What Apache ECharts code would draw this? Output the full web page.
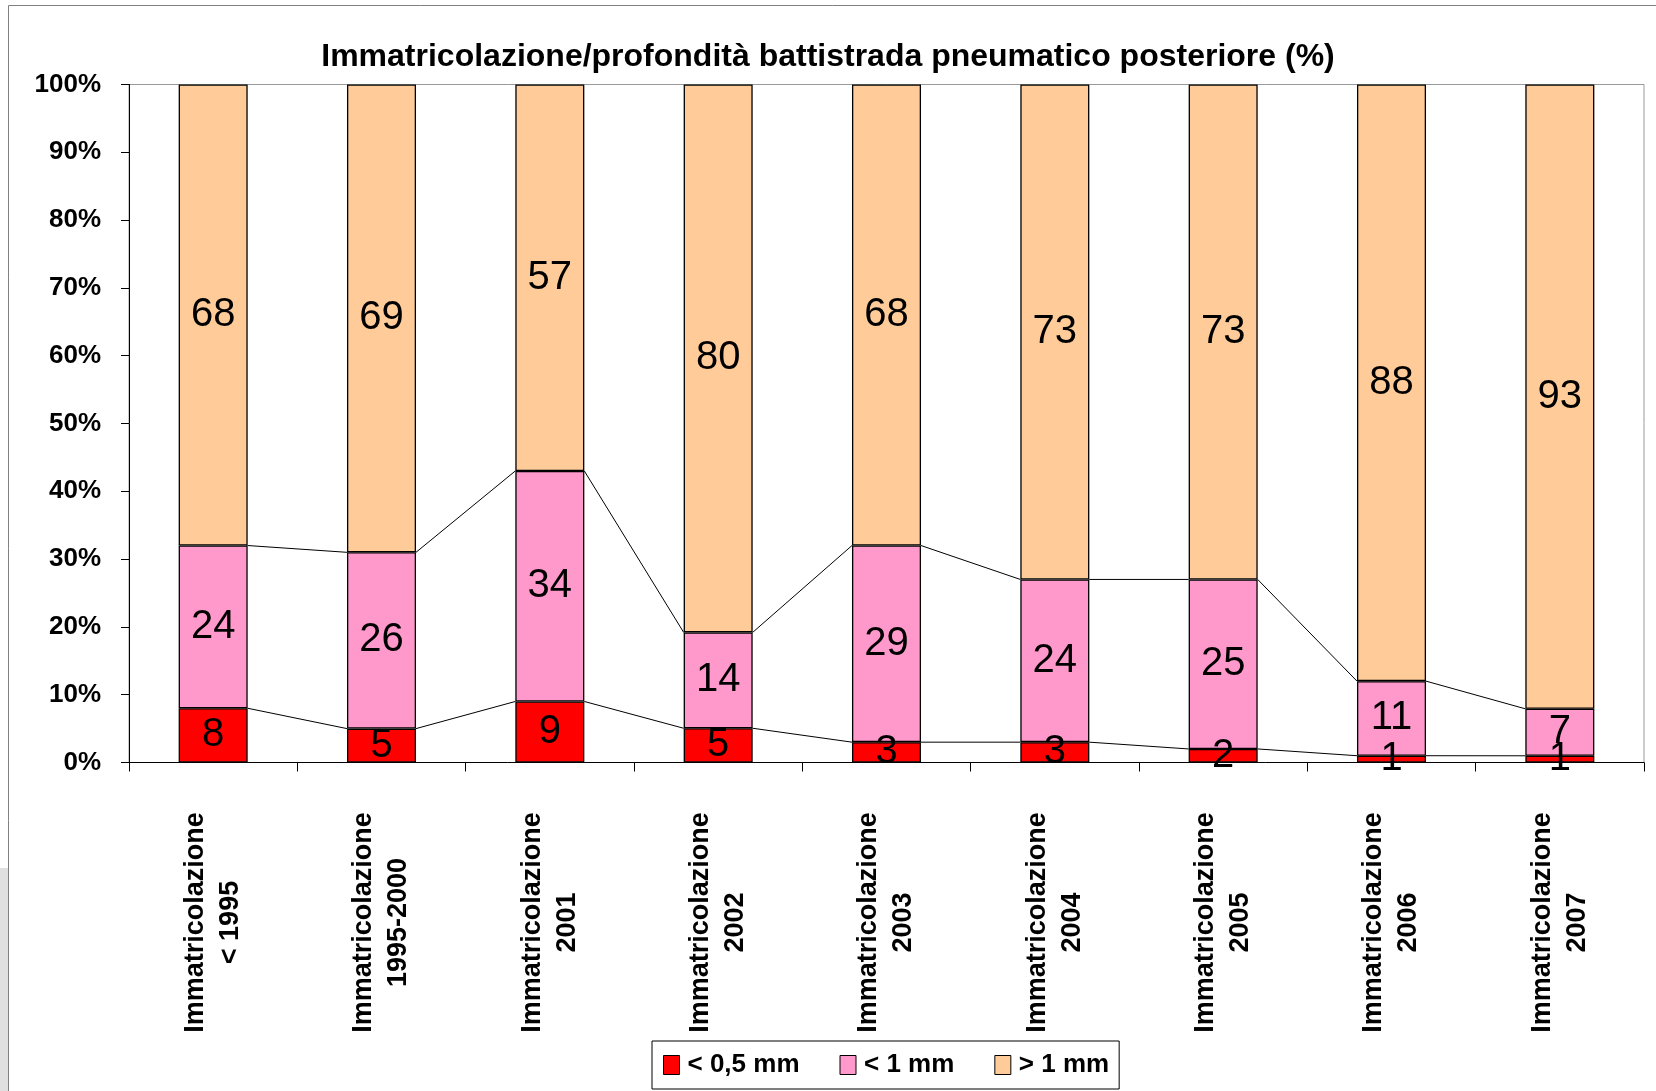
<!DOCTYPE html>
<html>
<head>
<meta charset="utf-8">
<script src="https://cdn.jsdelivr.net/npm/echarts@6/dist/echarts.min.js"></script>
<style>
  html, body { margin: 0; padding: 0; background: #fff; }
  #chart { width: 1656px; height: 1091px; }
</style>
</head>
<body>
<div id="chart"></div>
<script>
// categorie (anno di immatricolazione)
var categories = [
  'Immatricolazione\n< 1995', 'Immatricolazione\n1995-2000', 'Immatricolazione\n2001',
  'Immatricolazione\n2002', 'Immatricolazione\n2003', 'Immatricolazione\n2004',
  'Immatricolazione\n2005', 'Immatricolazione\n2006', 'Immatricolazione\n2007'
];
var under05 = [8, 5, 9, 5, 3, 3, 2, 1, 1];
var under1 = [24, 26, 34, 14, 29, 24, 25, 11, 7];
var over1 = [68, 69, 57, 80, 68, 73, 73, 88, 93];
var seriesNames = ['< 0,5 mm', '< 1 mm', '> 1 mm'];
var colors = ['#FF0000', '#FF99CC', '#FFCC99'];
var yTicks = [0, 10, 20, 30, 40, 50, 60, 70, 80, 90, 100];

var FONT = 'Liberation Sans, Arial, sans-serif';

// grafico a barre in pila al 100%: normalizzo ogni colonna
var raw = [under05, under1, over1];
var totals = categories.map(function (c, i) { return under05[i] + under1[i] + over1[i]; });
var pct = raw.map(function (arr) {
  return arr.map(function (v, i) { return v / totals[i] * 100; });
});

// linee di serie tra le colonne (bordo superiore del primo e del secondo segmento)
var lineData = [];
for (var i = 0; i < categories.length - 1; i++) {
  var a0 = pct[0][i], b0 = pct[0][i + 1];
  lineData.push([i, a0, b0]);
  lineData.push([i, a0 + pct[1][i], b0 + pct[1][i + 1]]);
}

var BAR_RATIO = 0.41;

var myChart = echarts.init(document.getElementById('chart'));

var barSeries = raw.map(function (arr, k) {
  return {
    name: seriesNames[k],
    type: 'bar',
    stack: 'tot',
    barWidth: (BAR_RATIO * 100) + '%',
    data: pct[k],
    z: 3,
    itemStyle: { color: colors[k], borderColor: '#000', borderWidth: 1.3 },
    label: {
      show: true,
      position: 'inside',
      color: '#000',
      fontFamily: FONT,
      fontSize: 40,
      formatter: function (p) { return raw[k][p.dataIndex]; }
    },
    emphasis: { disabled: true }
  };
});

var option = {
  backgroundColor: '#fff',
  animation: false,
  title: {
    text: 'Immatricolazione/profondità battistrada pneumatico posteriore (%)',
    left: 'center',
    top: 36,
    textStyle: { fontFamily: FONT, fontSize: 32, fontWeight: 'bold', color: '#000' }
  },
  legend: {
    left: 652,
    top: 1041,
    padding: [11, 10, 11, 11],
    itemGap: 40,
    itemWidth: 16,
    itemHeight: 19,
    borderColor: '#000',
    borderWidth: 1,
    icon: 'rect',
    itemStyle: { borderColor: '#000', borderWidth: 1 },
    textStyle: { fontFamily: FONT, fontSize: 26, fontWeight: 'bold', color: '#000', padding: [0, 0, 0, 3] },
    data: seriesNames
  },
  grid: {
    left: 129,
    right: 12,
    top: 84.5,
    bottom: 328.5,
    show: true,
    borderColor: '#999',
    borderWidth: 1
  },
  xAxis: {
    type: 'category',
    data: categories,
    boundaryGap: true,
    axisLine: { lineStyle: { color: '#000', width: 1 } },
    axisTick: { show: true, length: 9, lineStyle: { color: '#000' } },
    axisLabel: {
      rotate: 90,
      align: 'center',
      margin: 160,
      interval: 0,
      fontFamily: FONT,
      fontSize: 27,
      fontWeight: 'bold',
      lineHeight: 35,
      color: '#000'
    }
  },
  yAxis: {
    type: 'value',
    min: 0,
    max: 100,
    interval: 10,
    axisLine: { show: true, lineStyle: { color: '#000', width: 1 } },
    axisTick: { show: true, length: 8, lineStyle: { color: '#000' } },
    splitLine: { show: false },
    axisLabel: {
      margin: 28,
      formatter: function (v) { return yTicks.indexOf(v) >= 0 ? v + '%' : ''; },
      fontFamily: FONT,
      fontSize: 26,
      fontWeight: 'bold',
      color: '#000'
    }
  },
  graphic: [
    { type: 'rect', shape: { x: 0, y: 868, width: 8, height: 223 }, style: { fill: '#e0e0e0' }, silent: true },
    { type: 'rect', shape: { x: 8.5, y: 5.5, width: 1700, height: 1200 }, style: { fill: 'none', stroke: '#808080', lineWidth: 1 }, silent: true }
  ],
  series: barSeries.concat([{
    type: 'custom',
    z: 2,
    silent: true,
    data: lineData,
    encode: { x: 0, y: [1, 2] },
    renderItem: function (params, api) {
      var w = api.size([1, 0])[0] * BAR_RATIO;
      var p0 = api.coord([api.value(0), api.value(1)]);
      var p1 = api.coord([api.value(0) + 1, api.value(2)]);
      return {
        type: 'line',
        shape: { x1: p0[0] + w / 2, y1: p0[1], x2: p1[0] - w / 2, y2: p1[1] },
        style: { stroke: '#000', lineWidth: 1 }
      };
    }
  }])
};

myChart.setOption(option);
</script>
</body>
</html>
